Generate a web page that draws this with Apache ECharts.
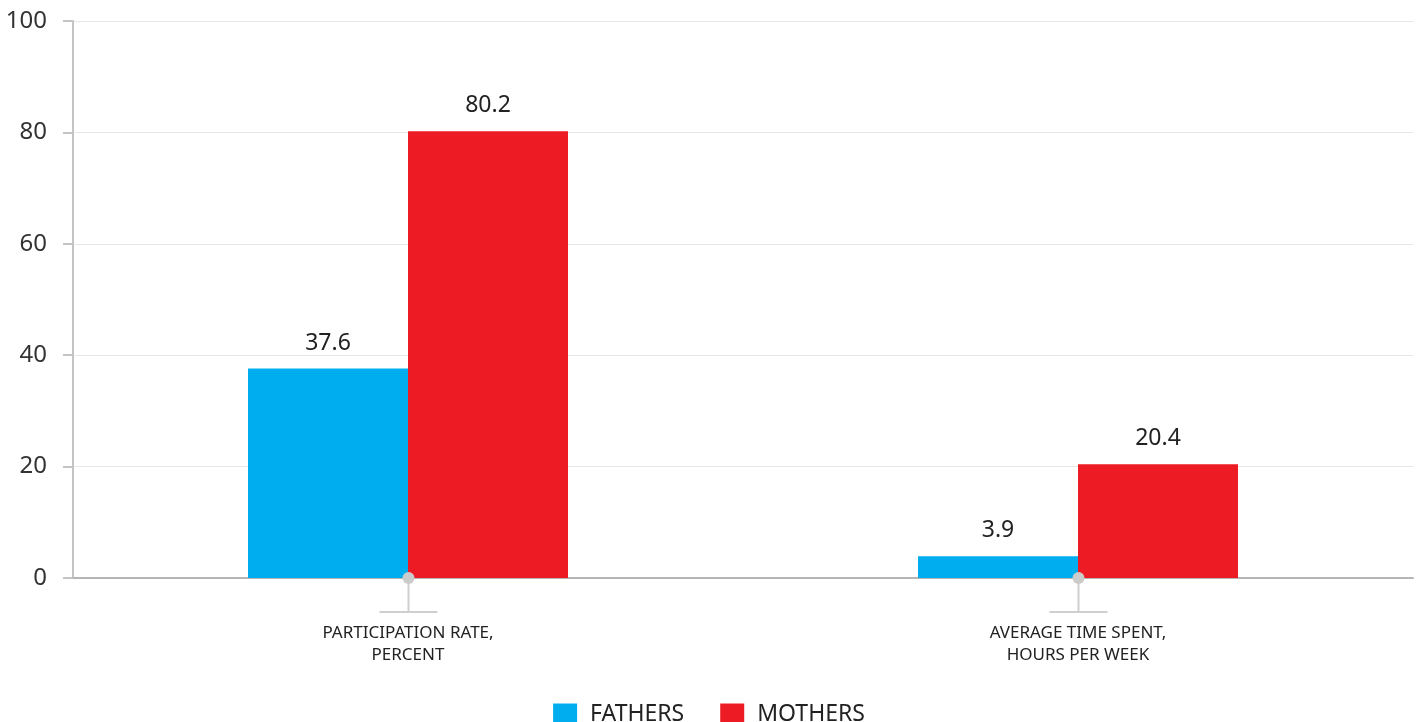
<!DOCTYPE html>
<html>
<head>
<meta charset="utf-8">
<style>
  html, body { margin: 0; padding: 0; background: #fff; }
  #chart { width: 1418px; height: 722px; }
</style>
<script src="https://cdn.jsdelivr.net/npm/echarts@6/dist/echarts.min.js"></script>
</head>
<body>
<div id="chart"></div>
<script>
const categories = ['PARTICIPATION RATE,\nPERCENT', 'AVERAGE TIME SPENT,\nHOURS PER WEEK'];
const fathers = [37.6, 3.9];
const mothers = [80.2, 20.4];
const seriesNames = ['FATHERS', 'MOTHERS'];

const FONT = '"Noto Sans", "Open Sans", sans-serif';
const chart = echarts.init(document.getElementById('chart'), null, { renderer: 'canvas' });

const labelStyle = {
  show: true,
  position: 'top',
  distance: 14,
  fontSize: 23,
  color: '#222',
  fontFamily: FONT
};

chart.setOption({
  animation: false,
  textStyle: { fontFamily: FONT },
  grid: { left: 73, right: 5, top: 21, bottom: 144, containLabel: false },
  legend: {
    bottom: -9,
    left: 'center',
    itemWidth: 24,
    itemHeight: 22,
    itemGap: 36,
    icon: 'rect',
    textStyle: { fontSize: 23, color: '#222', fontFamily: FONT, padding: [0, 0, 0, 8] },
    data: seriesNames
  },
  xAxis: {
    type: 'category',
    data: categories,
    axisLine: { lineStyle: { color: '#b5b5b5', width: 2 } },
    axisTick: { show: false },
    axisLabel: {
      fontSize: 17,
      color: '#222',
      lineHeight: 22,
      margin: 44,
      fontFamily: FONT
    }
  },
  yAxis: {
    type: 'value',
    min: 0,
    max: 100,
    interval: 20,
    axisLine: { show: true, lineStyle: { color: '#c4c4c4', width: 2 } },
    axisTick: { show: true, length: 10, lineStyle: { color: '#c4c4c4', width: 2 } },
    axisLabel: { fontSize: 24, color: '#333', margin: 26, fontFamily: FONT },
    splitLine: { lineStyle: { color: '#e6e6e6', width: 1 } }
  },
  series: [
    {
      name: seriesNames[0],
      type: 'bar',
      data: fathers,
      barWidth: 160,
      barGap: '0%',
      itemStyle: { color: '#00AEEF' },
      label: labelStyle
    },
    {
      name: seriesNames[1],
      type: 'bar',
      data: mothers,
      barWidth: 160,
      barGap: '0%',
      itemStyle: { color: '#ED1C24' },
      label: labelStyle
    },
    {
      // category tick marker: dot on the axis, stem and foot bar below it
      type: 'custom',
      silent: true,
      clip: false,
      z: 10,
      data: categories.map((c, i) => [i, 0]),
      renderItem: function (params, api) {
        const p = api.coord([api.value(0), 0]);
        const x = Math.round(p[0]) + 0.5;
        const y = p[1];
        return {
          type: 'group',
          children: [
            { type: 'line', shape: { x1: x, y1: y, x2: x, y2: y + 34 }, style: { stroke: '#cfcfcf', lineWidth: 2 } },
            { type: 'line', shape: { x1: x - 29, y1: y + 34, x2: x + 29, y2: y + 34 }, style: { stroke: '#cfcfcf', lineWidth: 2 } },
            { type: 'circle', shape: { cx: x, cy: y, r: 6 }, style: { fill: '#cbcbcb' } }
          ]
        };
      }
    }
  ]
});
</script>
</body>
</html>
